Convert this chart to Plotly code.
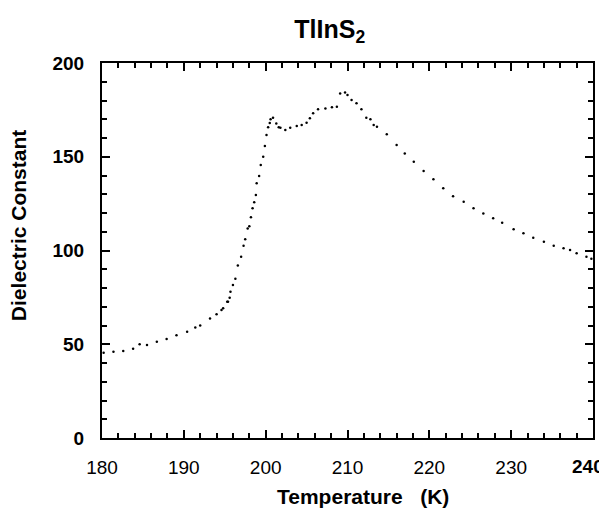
import plotly.graph_objects as go

# temperature (K) and dielectric constant
temperature = [
    180.2, 181.4, 182.6, 183.8, 184.6, 185.5, 186.7, 187.9, 189.1, 190.4,
    191.4, 192.0, 193.2, 194.0, 194.6, 194.8, 195.3, 195.4, 195.6, 195.7,
    196.0, 196.3, 196.6, 197.0, 197.3, 197.5, 197.8, 198.0, 198.2, 198.4,
    198.6, 198.8, 198.9, 199.2, 199.4, 199.7, 199.9, 200.1, 200.3, 200.5,
    200.6, 200.9, 201.3, 201.6, 201.8, 202.4, 203.0, 203.8, 204.4, 205.0,
    205.4, 205.8, 206.4, 207.3, 208.1, 208.7, 209.1, 209.7, 210.0, 210.5,
    211.1, 211.7, 212.3, 212.8, 213.2, 213.6, 214.8, 216.0, 217.0, 218.1,
    219.3, 220.5, 221.7, 222.9, 224.2, 225.4, 226.6, 227.8, 228.9, 230.3,
    231.5, 232.7, 234.0, 235.2, 236.4, 237.2, 238.0, 239.2, 239.8,
]
dielectric = [
    45.5, 46.0, 46.4, 47.6, 50.0, 49.6, 51.4, 52.8, 54.8, 56.7,
    59.0, 60.0, 63.8, 66.0, 68.3, 69.2, 72.7, 72.7, 74.8, 78.0,
    81.6, 85.0, 92.0, 96.7, 102.6, 106.0, 111.8, 113.0, 117.7, 122.5,
    125.7, 129.6, 135.8, 139.7, 145.6, 150.0, 155.7, 161.6, 165.7, 168.0,
    170.0, 170.8, 167.8, 165.7, 165.5, 164.3, 165.5, 166.4, 167.0, 168.2,
    170.5, 173.2, 175.3, 175.8, 176.4, 176.7, 183.8, 184.3, 183.0, 180.3,
    178.5, 175.3, 170.8, 170.0, 167.0, 166.0, 162.0, 156.3, 151.8, 147.4,
    142.4, 138.0, 133.2, 129.0, 126.0, 122.5, 119.8, 117.2, 114.8, 111.3,
    109.2, 106.8, 104.7, 102.6, 101.2, 100.3, 98.5, 96.7, 95.6,
]

# x tick labels; the last one (240) is drawn separately, pulled in from the edge
x_tick_vals = [180, 190, 200, 210, 220, 230, 240]
x_tick_text = ["180", "190", "200", "210", "220", "230", ""]
x_last_label = "240"

FONT = "Liberation Sans"

fig = go.Figure()
fig.add_trace(go.Scatter(
    x=temperature, y=dielectric, mode="markers",
    marker=dict(size=2.5, color="black"),
))

axis_common = dict(
    showline=True, linecolor="black", linewidth=2, mirror="allticks",
    ticks="inside", ticklen=8, tickwidth=1.5, tickcolor="black",
    showgrid=False, zeroline=False, automargin=False,
    tickfont=dict(family=FONT, size=19, color="black"),
    tickprefix="<b>", ticksuffix="</b>",
)

fig.update_xaxes(
    range=[180, 240], tickmode="array", tickvals=x_tick_vals, ticktext=x_tick_text,
    ticklabelstandoff=11,
    minor=dict(dtick=2, ticks="inside", ticklen=5, tickwidth=1.5, tickcolor="black"),
    **axis_common,
)
fig.update_yaxes(
    range=[0, 200], dtick=50, ticklabelstandoff=12,
    minor=dict(dtick=10, ticks="inside", ticklen=5, tickwidth=1.5, tickcolor="black"),
    **axis_common,
)

fig.add_annotation(
    text=f"<b>{x_last_label}</b>", xref="x", yref="paper",
    x=x_tick_vals[-1], y=0, xshift=-5, yshift=-28,
    xanchor="center", yanchor="middle", showarrow=False,
    font=dict(family=FONT, size=19, color="black"),
)

# axis titles as annotations so they sit where the reference puts them
fig.add_annotation(
    text="<b>Temperature\u00a0\u00a0\u00a0(K)</b>", xref="paper", yref="paper",
    x=0.532, y=0, yshift=-58, xanchor="center", yanchor="middle", showarrow=False,
    font=dict(family=FONT, size=21, color="black"),
)
fig.add_annotation(
    text="<b>Dielectric Constant</b>", xref="paper", yref="paper",
    x=0, y=0.565, xshift=-84, xanchor="center", yanchor="middle", showarrow=False,
    textangle=-90, font=dict(family=FONT, size=21, color="black"),
)

fig.update_layout(
    width=607, height=500,
    margin=dict(l=94, r=22, t=55, b=70, autoexpand=False),
    paper_bgcolor="white", plot_bgcolor="white",
    showlegend=False,
    title=dict(text="<b>TlInS<sub>2</sub></b>", x=0.53, xanchor="center",
               y=0.958, yanchor="middle",
               font=dict(family=FONT, size=25, color="black")),
)

fig.write_html("out.html")
